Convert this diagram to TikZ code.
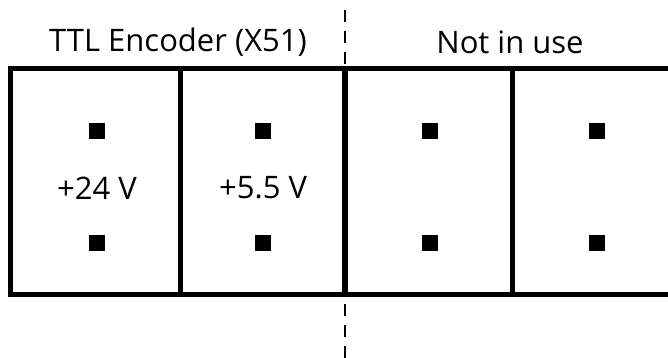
\documentclass[tikz,border=0pt]{standalone}
\usepackage{fontspec}
\setmainfont{Open Sans}
\begin{document}
\begin{tikzpicture}[x=1pt,y=-1pt,
  frame/.style={line width=5pt},
  sep/.style={line width=6.5pt},
  pin/.style={fill=black,minimum size=16pt,inner sep=0pt,draw=none},
  lbl/.style={font=\fontsize{31}{36}\selectfont},
  divider/.style={line width=2.5pt,dash pattern=on 12pt off 9pt}]
\useasboundingbox (0,0) rectangle (668,358);
\draw[frame] (672,69) -- (10.5,69) -- (10.5,294) -- (672,294);
\draw[frame] (180,69) -- (180,294);
\draw[frame] (512,69) -- (512,294);
\draw[sep] (345,69) -- (345,294);
\draw[divider] (345,10) -- (345,358);
\node[lbl] (h1) at (178,42) {TTL Encoder (X51)};
\node[lbl] (h2) at (510,42) {Not in use};
\foreach \x/\n in {97/a,263/b,430/c,597/d}{
  \node[pin] (\n1) at (\x,131) {};
  \node[pin] (\n2) at (\x,243) {};
}
\node[lbl] (v1) at (97,188) {+24 V};
\node[lbl] (v2) at (263,188) {+5.5 V};
\end{tikzpicture}
\end{document}
